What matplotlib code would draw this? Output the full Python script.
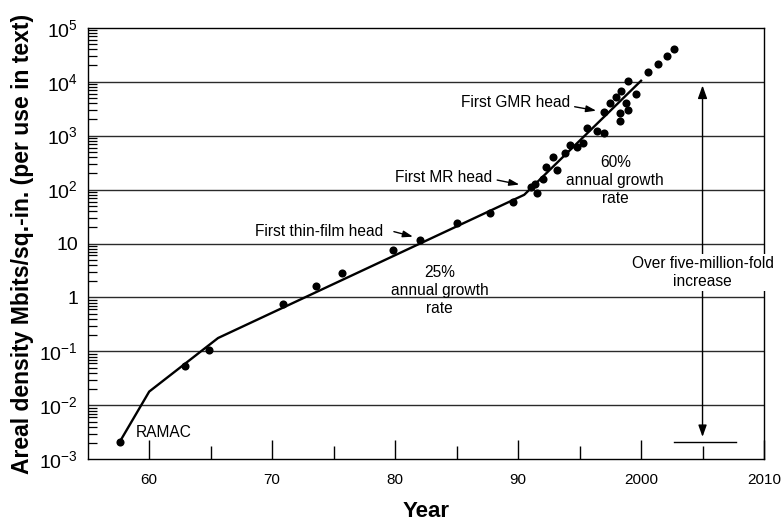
import numpy as np
import matplotlib
matplotlib.use('Agg')
import matplotlib.pyplot as plt
from matplotlib import rcParams
from matplotlib.ticker import FixedLocator, LogLocator, NullFormatter

rcParams['font.family'] = ['Liberation Sans', 'DejaVu Sans']
rcParams['mathtext.fontset'] = 'custom'
rcParams['mathtext.rm'] = 'Liberation Sans'

# measured points (year, Mbits/sq.in.)
pt_year = [1957.6, 1962.9, 1964.9, 1970.9, 1973.6, 1975.7, 1979.8, 1982.0,
           1985.0, 1987.7, 1989.6, 1991.05, 1991.4, 1991.5, 1992.05, 1992.3,
           1992.85, 1993.15, 1993.8, 1994.25, 1994.8, 1995.25, 1995.6, 1996.45,
           1997.0, 1996.95, 1997.5, 1998.0, 1998.4, 1998.95, 1998.8, 1998.95,
           1998.3, 1998.3, 1999.6, 2000.6, 2001.35, 2002.1, 2002.7]
pt_density = [0.0021, 0.054, 0.105, 0.75, 1.6, 2.9, 7.6, 11.7,
              24, 37, 58, 110, 128, 86, 158, 267,
              408, 232, 470, 670, 610, 740, 1370, 1240,
              1110, 2700, 4000, 5300, 6800, 10300, 4000, 3000,
              2600, 1900, 5850, 14900, 21300, 29900, 40800]

# piecewise trend line
trend_year = [1957.6, 1960.0, 1965.6, 1990.5, 2000.0]
trend_density = [0.0021, 0.018, 0.177, 80, 10400]

xtick_pos = [1960, 1970, 1980, 1990, 2000, 2010]
xtick_labels = ['60', '70', '80', '90', '2000', '2010']
ytick_pos = [1e-3, 1e-2, 1e-1, 1, 10, 1e2, 1e3, 1e4, 1e5]
ytick_labels = [r'$\mathregular{10^{-3}}$', r'$\mathregular{10^{-2}}$',
                r'$\mathregular{10^{-1}}$', '1', '10',
                r'$\mathregular{10^{2}}$', r'$\mathregular{10^{3}}$',
                r'$\mathregular{10^{4}}$', r'$\mathregular{10^{5}}$']

fig = plt.figure(figsize=(7.84, 5.24), dpi=100)
ax = fig.add_axes([0.1119, 0.1235, 0.8626, 0.8236])

ax.set_yscale('log')
ax.set_xlim(1955, 2010)
ax.set_ylim(1e-3, 1e5)

# horizontal grid at each decade
for v in ytick_pos[1:-1]:
    ax.axhline(v, color='#2a2a2a', lw=1.0, zorder=1)

ax.plot(trend_year, trend_density, color='black', lw=1.7, zorder=3)
ax.scatter(pt_year, pt_density, s=34, color='black', zorder=4, linewidths=0)

# ticks
ax.xaxis.set_major_locator(FixedLocator(xtick_pos))
ax.set_xticklabels(xtick_labels)
ax.xaxis.set_minor_locator(FixedLocator([1965, 1975, 1985, 1995, 2005]))
ax.yaxis.set_major_locator(FixedLocator(ytick_pos))
ax.set_yticklabels(ytick_labels)
ax.yaxis.set_minor_locator(LogLocator(base=10, subs=np.arange(2, 10)))
ax.yaxis.set_minor_formatter(NullFormatter())
ax.tick_params(axis='x', which='major', direction='in', length=13.5, width=1,
               labelsize=11, pad=10)
ax.tick_params(axis='x', which='minor', direction='in', length=9.5, width=1)
ax.tick_params(axis='y', which='major', direction='in', length=0,
               labelsize=14, pad=7)
ax.tick_params(axis='y', which='minor', direction='in', length=6.5, width=0.9)
for s in ax.spines.values():
    s.set_linewidth(1.0)

ax.set_xlabel('Year', fontsize=16, fontweight='bold', va='center')
ax.xaxis.set_label_coords(0.5, -0.122)
ax.set_ylabel('Areal density Mbits/sq.-in. (per use in text)', fontsize=16.5,
              fontweight='bold', va='center')
ax.yaxis.set_label_coords(-0.097, 0.5)

fs = 11.2
small_arrow = dict(arrowstyle='-|>,head_length=0.6,head_width=0.2',
                   color='black', lw=1, shrinkA=0, shrinkB=0)

ax.text(1958.9, 0.0032, 'RAMAC', fontsize=fs, ha='left', va='center')
ax.text(1979.0, 17.0, 'First thin-film head', fontsize=fs, ha='right', va='center')
ax.annotate('', xy=(1981.45, 13.4), xytext=(1979.9, 16.6), arrowprops=small_arrow)
ax.text(1987.9, 164, 'First MR head', fontsize=fs, ha='right', va='center')
ax.annotate('', xy=(1990.1, 124), xytext=(1988.3, 150), arrowprops=small_arrow)
ax.text(1994.25, 4070, 'First GMR head', fontsize=fs, ha='right', va='center')
ax.annotate('', xy=(1996.35, 2900), xytext=(1994.6, 3430), arrowprops=small_arrow)

ax.text(1983.6, 1.37, '25%\nannual growth\nrate', fontsize=fs, ha='center',
        va='center', linespacing=1.25)
ax.text(1997.9, 150, '60%\nannual growth\nrate', fontsize=fs, ha='center',
        va='center', linespacing=1.25)

# five-million-fold span marker
big_arrow = dict(arrowstyle='-|>,head_length=0.7,head_width=0.25',
                 color='black', lw=1, shrinkA=0, shrinkB=0)
ax.annotate('', xy=(2005, 0.0026), xytext=(2005, 2.9), arrowprops=big_arrow,
            zorder=2)
ax.annotate('Over five-million-fold\nincrease', xy=(2005, 8500),
            xytext=(2005, 2.9), fontsize=fs, ha='center', va='center',
            linespacing=1.2, zorder=5,
            bbox=dict(boxstyle='square,pad=0.15', fc='white', ec='none'),
            arrowprops=dict(big_arrow, shrinkA=0))
ax.plot([2002.7, 2007.7], [0.00212, 0.00212], color='black', lw=1.0)

fig.savefig('out.png', dpi=100)
